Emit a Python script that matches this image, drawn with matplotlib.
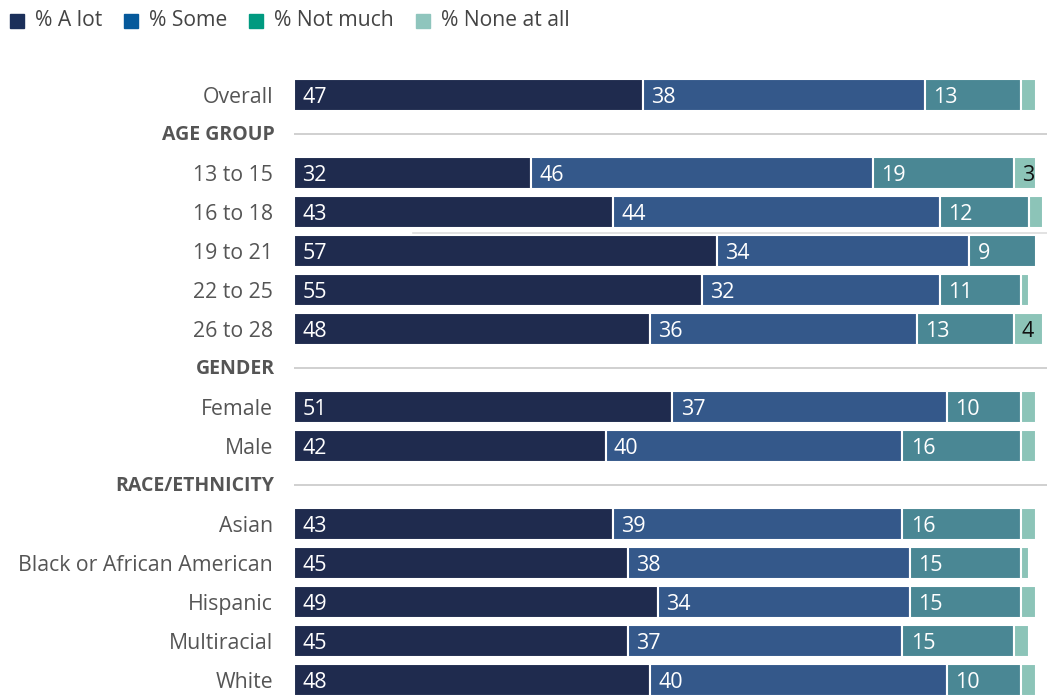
import matplotlib.pyplot as plt

plt.rcParams['font.family'] = ['Open Sans', 'DejaVu Sans']

# rows from top to bottom; group headers have no values
rows = ["Overall", "AGE GROUP", "13 to 15", "16 to 18", "19 to 21", "22 to 25", "26 to 28",
        "GENDER", "Female", "Male",
        "RACE/ETHNICITY", "Asian", "Black or African American", "Hispanic", "Multiracial", "White"]
headers = ["AGE GROUP", "GENDER", "RACE/ETHNICITY"]

a_lot     = [47, None, 32, 43, 57, 55, 48, None, 51, 42, None, 43, 45, 49, 45, 48]
some      = [38, None, 46, 44, 34, 32, 36, None, 37, 40, None, 39, 38, 34, 37, 40]
not_much  = [13, None, 19, 12, 9, 11, 13, None, 10, 16, None, 16, 15, 15, 15, 10]
none_all  = [2, None, 3, 2, 0, 1, 4, None, 2, 2, None, 2, 1, 2, 2, 2]

series = [("% A lot", a_lot), ("% Some", some), ("% Not much", not_much), ("% None at all", none_all)]
bar_colors = ["#1f2b4e", "#34588a", "#4a8794", "#8cc4b8"]
legend_colors = ["#1b2f5a", "#05599b", "#009a80", "#8fc5bd"]
text_colors = ["white", "white", "white", "#111111"]

fig = plt.figure(figsize=(10.47, 6.96), dpi=100)
ax = fig.add_axes([0, 0, 1, 1])
ax.set_xlim(-294 / 7.42, 753 / 7.42)
ax.set_ylim((696 - 95) / 39, -95 / 39)
ax.axis("off")

for i, name in enumerate(rows):
    if name in headers:
        ax.text(-2.6, i + 0.02, name, ha="right", va="center", fontsize=14, fontweight="bold",
                color="#555555")
        ax.plot([0, 101.48], [i, i], color="#c8c8c8", lw=1.2, solid_capstyle="butt")
        continue
    ax.text(-2.8, i + 0.06, name, ha="right", va="center", fontsize=15.3, color="#555555")
    left = 0
    for k, (label, vals) in enumerate(series):
        v = vals[i]
        if v > 0:
            ax.barh(i, v, left=left, height=0.8, color=bar_colors[k], edgecolor="white", linewidth=1.5)
            if v >= 3:
                ax.text(left + 1.1, i + 0.06, str(v), ha="left", va="center", fontsize=15.5,
                        color=text_colors[k])
        left += v

# faint rule between 16 to 18 and 19 to 21
ax.plot([16, 101.48], [(233 - 95) / 39, (233 - 95) / 39], color="#dddddd", lw=1.2)

# legend
lx = 10
for k, (label, vals) in enumerate(series):
    fig.patches.append(plt.Rectangle((lx / 1047, 1 - 28 / 696), 14 / 1047, 14 / 696,
                                     transform=fig.transFigure, color=legend_colors[k]))
    t = fig.text((lx + 25) / 1047, 1 - 21 / 696, label, ha="left", va="center", fontsize=15.2,
                 color="#444444")
    fig.canvas.draw()
    bb = t.get_window_extent()
    lx = bb.x1 + 22

fig.savefig("out.png", dpi=100)
